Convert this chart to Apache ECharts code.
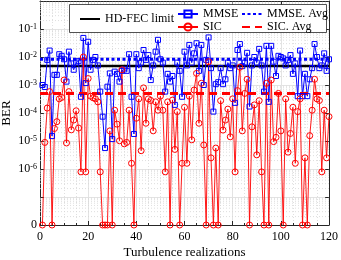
<!DOCTYPE html>
<html><head><meta charset="utf-8">
<script src="https://cdn.jsdelivr.net/npm/echarts@6/dist/echarts.min.js"></script>
<style>html,body{margin:0;padding:0;background:#fff}#c{width:341px;height:260px}</style>
</head><body><div id="c"></div><script>
// x categories: turbulence realization index
const realizations = [1,2,3,4,5,6,7,8,9,10,11,12,13,14,15,16,17,18,19,20,21,22,23,24,25,26,27,28,29,30,
31,32,33,34,35,36,37,38,39,40,41,42,43,44,45,46,47,48,49,50,51,52,53,54,55,56,57,58,59,60,
61,62,63,64,65,66,67,68,69,70,71,72,73,74,75,76,77,78,79,80,81,82,83,84,85,86,87,88,89,90,
91,92,93,94,95,96,97,98,99,100,101,102,103,104,105,106,107,108,109,110,111,112,113,114,115,116,117,118,119,120];

// MMSE BER per realization
const mmseBER = [1.0e-3,8.5e-4,7.9e-3,1.7e-2,1.5e-5,2.3e-3,2.3e-3,1.26e-2,1.1e-2,8.3e-3,
1.32e-3,1.55e-2,5.9e-3,3.5e-3,6.3e-3,7.1e-3,3.8e-4,4.8e-2,1.17e-3,3.5e-2,
3.5e-3,7.9e-3,1.0e-2,5.0e-3,5.8e-4,7.4e-5,5.6e-6,8.7e-4,2.6e-3,1.17e-5,
3.0e-3,2.5e-3,1.32e-3,3.2e-3,3.6e-3,3.2e-3,1.26e-2,3.8e-4,1.78e-5,1.26e-2,
4.0e-3,6.3e-3,1.78e-2,7.9e-3,1.17e-2,1.5e-3,5.0e-3,1.55e-2,4.1e-2,8.3e-3,
6.3e-3,5.8e-4,2.5e-3,1.32e-3,2.1e-3,1.95e-4,6.3e-3,3.2e-3,3.8e-4,1.55e-2,
5.0e-3,2.7e-2,6.3e-3,1.35e-2,3.1e-2,3.2e-3,2.7e-2,1.0e-3,7.9e-3,5.0e-2,
4.0e-3,1.12e-4,1.07e-3,1.26e-3,4.0e-3,1.07e-3,1.6e-3,6.3e-3,4.0e-3,5.0e-3,
2.3e-4,1.78e-2,2.9e-2,4.7e-3,6.3e-3,1.41e-2,1.7e-4,5.0e-3,1.0e-2,6.3e-3,
1.95e-2,5.0e-3,5.8e-4,2.5e-2,2.5e-4,2.5e-2,6.8e-3,2.1e-3,1.1e-2,1.0e-2,
8.9e-3,5.0e-3,7.9e-3,1.17e-2,2.5e-3,5.9e-3,4.0e-4,1.7e-2,4.0e-4,2.5e-3,
4.0e-4,1.6e-3,4.0e-3,2.9e-2,1.0e-2,4.0e-3,5.0e-3,1.35e-2,3.2e-3,8.3e-3];

// SIC BER per realization (0 = error free, drawn on the "0" floor of the axis)
const sicBER = [0,8.9e-6,1.5e-4,5.8e-4,0,2.8e-5,4.9e-5,3.2e-4,3.6e-4,1.5e-3,
8.5e-6,5.8e-4,2.5e-5,5.6e-5,1.2e-4,2.9e-5,7.9e-7,1.0e-2,7.9e-7,1.7e-3,
4.0e-4,3.5e-4,3.2e-4,2.5e-4,7.9e-7,0,0,0,2.3e-5,0,
1.26e-4,4.0e-5,1.02e-5,3.5e-3,7.9e-6,8.9e-6,1.26e-4,1.6e-6,0,6.5e-5,
3.2e-4,4.5e-6,7.9e-4,4.3e-5,3.2e-4,2.8e-4,2.3e-5,2.5e-4,1.26e-4,4.0e-4,
1.26e-4,7.9e-7,2.5e-4,0,2.9e-4,5.0e-6,1.12e-4,0,1.6e-6,1.6e-4,
1.6e-6,4.0e-4,1.1e-5,6.6e-4,2.6e-3,4.3e-5,1.15e-3,7.2e-6,0,6.8e-3,
2.5e-6,0,5.6e-6,0,2.75e-4,2.45e-5,5.6e-5,1.38e-4,1.41e-5,3.2e-4,
7.9e-7,6.3e-4,4.3e-3,2.3e-5,5.0e-4,1.6e-3,0,3.2e-5,1.95e-4,3.2e-6,
2.75e-4,7.9e-7,0,1.15e-3,0,1.5e-3,9.5e-6,1.35e-5,5.0e-4,2.3e-5,
0,3.2e-4,4.0e-6,1.86e-5,1.6e-4,1.6e-6,1.12e-4,3.2e-4,0,2.5e-6,
0,1.55e-5,1.26e-4,1.6e-3,3.2e-4,2.8e-4,7.9e-7,1.26e-4,2.5e-6,7.4e-5];

const hdFecLimit = 4.8e-3;
const mmseAvg = 8.3e-3;
const sicAvg = 5.0e-4;

// axis extents and tick labels
const X_MIN = 0, X_MAX = 120, X_STEP = 20;
const ZERO_FLOOR = 1e-8, Y_MAX = 1;
const yTickLabels = {'-8':'0','-7':'','-6':'10|-6','-5':'10|-5','-4':'10|-4','-3':'10|-3','-2':'10|-2','-1':'10|-1','0':''};

const FONT = 'Liberation Serif';
const BLUE = '#0000ff', RED = '#ff0000';

// minor log grid lines (2..9 x each decade), broken with '-' between lines
const minorGrid = [];
for (let n = -8; n < 0; n++) for (let k = 2; k <= 9; k++) {
  const v = k * Math.pow(10, n);
  minorGrid.push([X_MIN, v], [X_MAX, v], '-');
}

const toPts = arr => realizations.map((x, i) => [x, arr[i] === 0 ? ZERO_FLOOR : arr[i]]);
const hLine = v => [[X_MIN, v], [X_MAX, v]];

const chart = echarts.init(document.getElementById('c'), null, {renderer: 'canvas'});
const axisCol = '#262626';
const legendText = {fontFamily: FONT, fontSize: 12, color: '#000'};
chart.setOption({
  animation: false,
  textStyle: {fontFamily: FONT},
  grid: {left: 40, right: 12, top: 1, bottom: 35, outerBoundsMode: 'none'},
  xAxis: [{
    type: 'value', min: X_MIN, max: X_MAX, interval: X_STEP,
    name: 'Turbulence realizations', nameLocation: 'middle', nameGap: 21, nameMoveOverlap: false,
    nameTextStyle: {fontFamily: FONT, fontSize: 13, color: '#000'},
    axisLine: {show: true, onZero: false, lineStyle: {color: axisCol, width: 1}},
    axisTick: {show: true, inside: true, length: 4, lineStyle: {color: axisCol}},
    minorTick: {show: true, splitNumber: 4, length: 2, lineStyle: {color: axisCol}},
    axisLabel: {fontFamily: FONT, fontSize: 12, color: '#000', margin: 6},
    splitLine: {show: true, lineStyle: {color: '#e3e3e3', width: 1}},
    minorSplitLine: {show: true, lineStyle: {color: '#d8d8d8', width: 0.8, type: [1, 2]}}
  }, {
    type: 'value', min: X_MIN, max: X_MAX, interval: X_STEP, position: 'top',
    axisLine: {show: true, onZero: false, lineStyle: {color: axisCol, width: 1}},
    axisTick: {show: true, inside: true, length: 4, lineStyle: {color: axisCol}},
    axisLabel: {show: false}, splitLine: {show: false}
  }],
  yAxis: [{
    type: 'log', logBase: 10, min: ZERO_FLOOR, max: Y_MAX, splitNumber: 8,
    name: 'BER', nameLocation: 'middle', nameGap: 27, nameMoveOverlap: false,
    nameTextStyle: {fontFamily: FONT, fontSize: 13, color: '#000'},
    axisLine: {show: true, onZero: false, lineStyle: {color: axisCol, width: 1}},
    axisTick: {show: true, inside: true, length: 4, lineStyle: {color: axisCol}},
    splitLine: {show: true, lineStyle: {color: '#e3e3e3', width: 1}},
    axisLabel: {
      margin: 3, color: '#000', fontFamily: FONT, fontSize: 12,
      formatter: v => {
        const e = String(Math.round(Math.log10(v)));
        const t = yTickLabels[e];
        if (t === undefined || t === '') return '';
        if (t.indexOf('|') < 0) return '{z|' + t + '}';
        const p = t.split('|');
        return '{b|' + p[0] + '}{s|' + p[1] + '}';
      },
      rich: {
        b: {fontFamily: FONT, fontSize: 12, color: '#000', lineHeight: 12, padding: [4, 0, 0, 0], verticalAlign: 'bottom'},
        s: {fontFamily: FONT, fontSize: 8, color: '#000', lineHeight: 8, verticalAlign: 'top'},
        z: {fontFamily: FONT, fontSize: 12, color: '#000', lineHeight: 12}
      }
    }
  }, {
    type: 'log', logBase: 10, min: ZERO_FLOOR, max: Y_MAX, splitNumber: 8, position: 'right',
    axisLine: {show: true, onZero: false, lineStyle: {color: axisCol, width: 1}},
    axisTick: {show: true, inside: true, length: 4, lineStyle: {color: axisCol}},
    axisLabel: {show: false}, splitLine: {show: false}
  }],
  legend: [
    {data: ['HD-FEC limit'], left: 74, top: 8, itemWidth: 20, itemHeight: 9, z: 5,
     itemStyle: {opacity: 0}, textStyle: legendText},
    {data: ['MMSE', 'SIC'], orient: 'vertical', left: 172, top: 3, itemGap: 1, itemWidth: 20, itemHeight: 9, z: 5,
     padding: [5, 5, 5, 5], textStyle: legendText},
    {data: ['MMSE. Avg', 'SIC. Avg'], orient: 'vertical', left: 236, top: 3, itemGap: 1, itemWidth: 20, itemHeight: 9, z: 5,
     padding: [5, 5, 5, 5], itemStyle: {opacity: 0}, textStyle: legendText}
  ],
  graphic: [{
    type: 'rect', z: 4, silent: true,
    shape: {x: 69.5, y: 4.5, width: 257, height: 28},
    style: {fill: '#fff', stroke: axisCol, lineWidth: 0.8}
  }],
  series: [
    {
      name: 'minor grid', type: 'line', data: minorGrid, silent: true, z: 0,
      symbol: 'none', connectNulls: false,
      lineStyle: {color: '#d6d6d6', width: 0.8, type: [1, 2]}
    },
    {
      name: 'HD-FEC limit', type: 'line', data: hLine(hdFecLimit), symbol: 'none', color: '#000',
      lineStyle: {color: '#000', width: 2.5, type: 'solid'}, z: 2
    },
    {
      name: 'MMSE', type: 'line', data: toPts(mmseBER), color: BLUE,
      symbol: 'rect', symbolSize: 5, showAllSymbol: true,
      lineStyle: {color: BLUE, width: 1},
      itemStyle: {color: 'rgba(255,255,255,0)', borderColor: BLUE, borderWidth: 1}, z: 3
    },
    {
      name: 'SIC', type: 'line', data: toPts(sicBER), color: RED,
      symbol: 'circle', symbolSize: 6, showAllSymbol: true,
      lineStyle: {color: RED, width: 0.9},
      itemStyle: {color: 'rgba(255,255,255,0)', borderColor: RED, borderWidth: 1}, z: 3
    },
    {
      name: 'MMSE. Avg', type: 'line', data: hLine(mmseAvg), symbol: 'none', color: BLUE,
      lineStyle: {color: BLUE, width: 3, type: [3, 2.5]}, z: 3
    },
    {
      name: 'SIC. Avg', type: 'line', data: hLine(sicAvg), symbol: 'none', color: RED,
      lineStyle: {color: RED, width: 3, type: [8, 5]}, z: 3
    }
  ]
});
</script></body></html>
